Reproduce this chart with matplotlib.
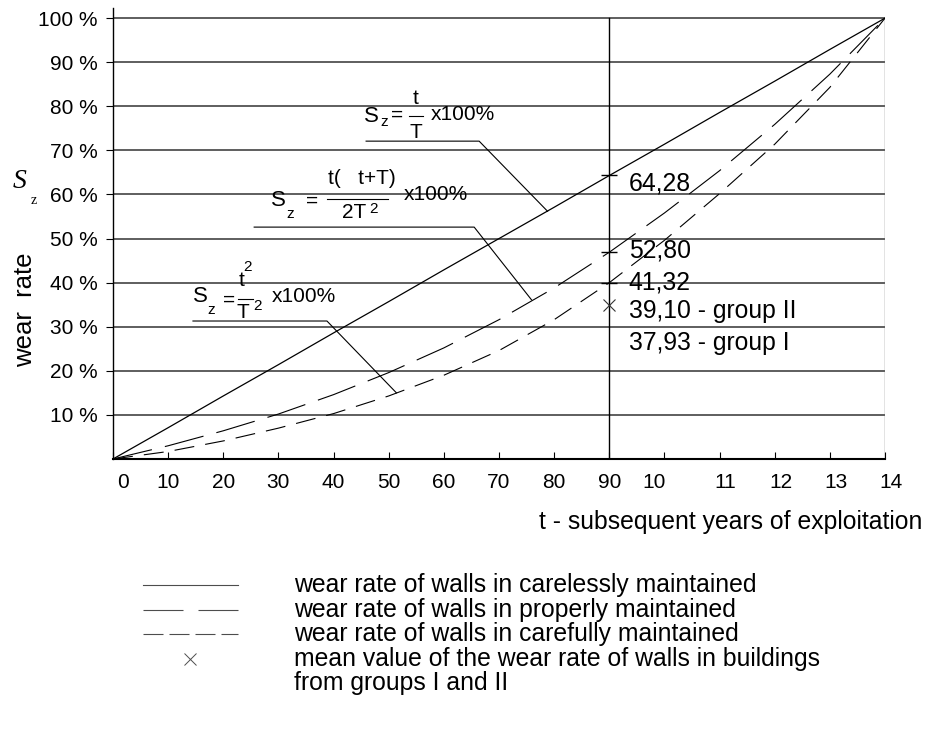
import matplotlib
matplotlib.use("Agg")
import matplotlib.pyplot as plt
import matplotlib.transforms as mtransforms
from matplotlib.lines import Line2D

plt.rcParams['font.family'] = ['Liberation Sans', 'DejaVu Sans']

# data
years = [0, 10, 20, 30, 40, 50, 60, 70, 80, 90, 100, 110, 120, 130, 140]
careless = [0, 7.1, 14.3, 21.4, 28.6, 35.7, 42.9, 50.0, 57.1, 64.3, 71.4, 78.6, 85.7, 92.9, 100]
properly = [0, 3.0, 6.4, 10.2, 14.6, 19.6, 25.2, 31.6, 38.8, 46.9, 55.8, 65.4, 75.9, 87.3, 100]
carefully = [0, 1.7, 4.1, 7.0, 10.3, 14.3, 19.0, 24.6, 31.6, 40.0, 49.6, 60.2, 71.4, 84.3, 100]

mean_year = [90]
mean_wear = [35.0]

marker_year = 90
marker_vals = [64.4, 46.9, 39.9]
value_labels = ["64,28", "52,80", "41,32", "39,10 - group II", "37,93 - group I"]
value_label_y = [62.6, 47.2, 40.1, 33.6, 26.3]

x_ticks = years
x_ticklabels = ["0", "10", "20", "30", "40", "50", "60", "70", "80", "90",
                "10", "11", "12", "13", "14"]
y_ticks = [10, 20, 30, 40, 50, 60, 70, 80, 90, 100]
y_ticklabels = [f"{v} %" for v in y_ticks]

legend_labels = [
    "wear rate of walls in carelessly maintained",
    "wear rate of walls in properly maintained",
    "wear rate of walls in carefully maintained",
    "mean value of the wear rate of walls in buildings",
    "from groups I and II",
]

W, H = 927, 744
fig = plt.figure(figsize=(W / 100, H / 100), dpi=100)
ax = fig.add_axes([113 / W, 1 - 459 / H, (885 - 113) / W, (459 - 8) / H])
# pixel coordinates, origin top-left
px = mtransforms.Affine2D().scale(1 / W, -1 / H).translate(0, 1) + fig.transFigure

FS_TICK = 15
FS_BODY = 17.8
FS_FORM = 15
LONG = (0, (36, 12))
SHORT = (0, (18, 10))

# grid
for v in y_ticks:
    ax.axhline(v, color='0.2', lw=1.1, zorder=1)
ax.plot([marker_year, marker_year], [0, 100], color='k', lw=1.0, zorder=2)
ax.plot([years[-1], years[-1]], [0, 100], color='0.45', lw=1.0, zorder=2)

# curves
ax.plot(years, careless, color='k', lw=0.9, zorder=3)
ax.plot(years, properly, color='k', lw=0.8, linestyle=LONG, zorder=3)
ax.plot(years, carefully, color='k', lw=0.8, linestyle=SHORT, zorder=3)
ax.plot(mean_year, mean_wear, linestyle='none', marker='x', ms=9,
        mew=0.8, color='0.2', zorder=4)

ax.hlines(marker_vals, marker_year - 1.45, marker_year + 1.45, color='k', lw=1.0, zorder=4)
for lab, yv in zip(value_labels, value_label_y):
    ax.text(93.5, yv, lab, fontsize=FS_BODY, ha='left', va='center', zorder=5)

# axes styling
ax.set_xlim(0, 140)
ax.set_ylim(0, 102.3)
ax.spines['top'].set_visible(False)
ax.spines['right'].set_visible(False)
ax.spines['left'].set_linewidth(1.0)
ax.spines['bottom'].set_linewidth(1.5)
ax.set_xticks(x_ticks)
ax.set_xticklabels(x_ticklabels, fontsize=FS_TICK)
ax.set_yticks(y_ticks)
ax.set_yticklabels(y_ticklabels, fontsize=FS_TICK)
ax.tick_params(axis='x', direction='in', length=5, width=0.8, pad=10)
ax.tick_params(axis='y', direction='out', length=5, width=0.8, pad=6)
# the original labels are not quite centred on their ticks
shift = {0: 10, 10: -10, 11: 6, 12: 6, 13: 6, 14: 6}
for i, t in enumerate(ax.get_xticklabels()):
    if i in shift:
        off = mtransforms.ScaledTranslation(shift[i] / 100, 0, fig.dpi_scale_trans)
        t.set_transform(t.get_transform() + off)

# leader lines: underline start, underline end, point on curve
leaders = [
    ([45.9, 66.4, 78.8], [72.1, 72.1, 56.2]),
    ([25.6, 65.5, 75.9], [52.6, 52.6, 36.1]),
    ([14.5, 38.8, 51.4], [31.3, 31.3, 15.0]),
]
for lx, ly in leaders:
    ax.plot(lx, ly, color='k', lw=0.8, zorder=4)


def ftext(x, y, s, size=FS_FORM, ha='center'):
    fig.text(x, y, s, transform=px, fontsize=size, ha=ha, va='center')


def fbar(x0, x1, y):
    fig.add_artist(Line2D([x0, x1], [y, y], transform=px, color='k', lw=0.8))


# S_z = t / T x100%
ftext(371, 116, "S", size=16)
ftext(384, 122, "z", size=11)
ftext(397, 115, "=")
ftext(416, 98, "t")
fbar(409, 423, 116)
ftext(416, 132, "T")
ftext(431, 115, "x100%", ha='left')

# S_z = t( t+T) / 2T^2 x100%
ftext(278, 200, "S", size=16)
ftext(290, 214, "z", size=11)
ftext(312, 201, "=")
ftext(362, 178, "t(   t+T)")
fbar(327, 388, 199)
ftext(354, 212, "2T")
ftext(374, 209, "2", size=11)
ftext(404, 195, "x100%", ha='left')

# S_z = t^2 / T^2 x100%
ftext(242, 281, "t")
ftext(248, 267, "2", size=11)
ftext(200, 297, "S", size=16)
ftext(211, 310, "z", size=11)
ftext(229, 300, "=")
fbar(238, 253, 299)
ftext(243, 312, "T")
ftext(258, 306, "2", size=11)
ftext(272, 296, "x100%", ha='left')

# axis labels
fig.text(20, 181, "S", transform=px, fontsize=20, family='Liberation Serif',
         style='italic', ha='center', va='center')
fig.text(34, 200, "z", transform=px, fontsize=10, family='Liberation Serif',
         ha='center', va='center')
fig.text(25, 310, "wear  rate", transform=px, fontsize=18.5, rotation=90,
         ha='center', va='center')
fig.text(922, 522, "t - subsequent years of exploitation", transform=px,
         fontsize=FS_BODY, ha='right', va='center')

# legend
rows = [585, 610, 634, 659, 683]
styles = ['-', (0, (36, 13.5)), (0, (18, 5.4))]
for y, ls in zip(rows[:3], styles):
    fig.add_artist(Line2D([143, 238], [y, y], transform=px, color='0.3',
                          lw=0.8, linestyle=ls))
fig.add_artist(Line2D([190], [rows[3]], transform=px, color='0.3',
                      marker='x', ms=8, mew=0.7, linestyle='none'))
for y, lab in zip(rows, legend_labels):
    fig.text(294, y, lab, transform=px, fontsize=FS_BODY, ha='left', va='center')

fig.savefig("out.png", dpi=100)
